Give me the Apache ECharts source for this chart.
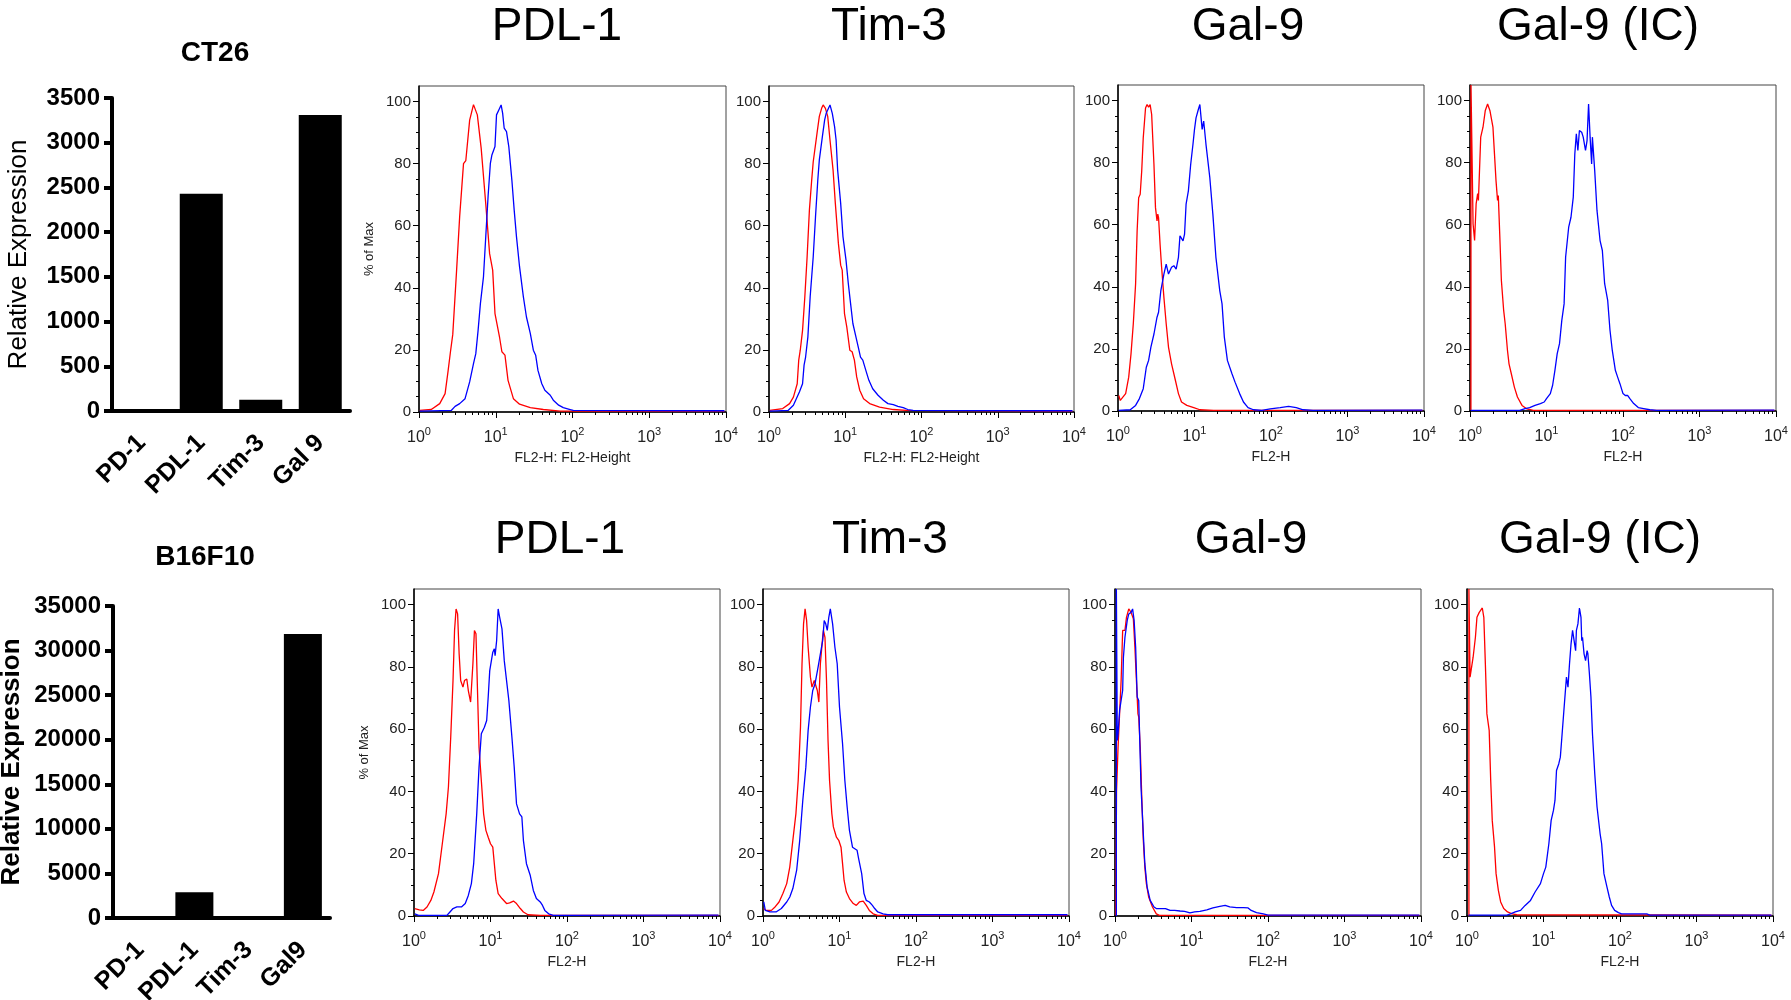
<!DOCTYPE html>
<html>
<head>
<meta charset="utf-8">
<script src="https://cdn.jsdelivr.net/npm/echarts@6/dist/echarts.min.js"></script>
<style>
html, body { margin: 0; padding: 0; background: #fff; }
#main { width: 1791px; height: 1000px; }
</style>
</head>
<body>
<div id="main"></div>
<script>
// bar charts (qPCR relative expression)
var ct26Genes = ['PD-1', 'PDL-1', 'Tim-3', 'Gal 9'];
var ct26Values = [10, 2430, 125, 3310];
var b16Genes = ['PD-1', 'PDL-1', 'Tim-3', 'Gal9'];
var b16Values = [60, 2900, 80, 31850];

// histogram panels, points are [log10 FL2-H, % of Max]
var histTitles = ['PDL-1', 'Tim-3', 'Gal-9', 'Gal-9 (IC)'];
var ct26XNames = ['FL2-H: FL2-Height', 'FL2-H: FL2-Height', 'FL2-H', 'FL2-H'];
var b16XNames = ['FL2-H', 'FL2-H', 'FL2-H', 'FL2-H'];
var decadeTicks = [0, 1, 2, 3, 4];
var yMinorTicks = [0, 5, 10, 15, 20, 25, 30, 35, 40, 45, 50, 55, 60, 65, 70, 75, 80, 85, 90, 95, 100];

var ct26Pdl1Red = [[0.01,0.5],[0.16,0.8],[0.27,2.7],[0.34,5.9],[0.38,13.4],[0.41,19.4],[0.44,25],[0.49,45.7],[0.53,63],[0.58,80],[0.61,81],[0.66,94],[0.71,99],[0.76,95.7],[0.81,85],[0.87,67],[0.92,51],[0.96,45.7],[0.99,31.7],[1.05,24],[1.08,19.4],[1.12,18.3],[1.16,10.2],[1.23,4.3],[1.31,2.5],[1.45,1.4],[1.62,0.8],[1.84,0.3],[3.98,0.3]];
var ct26Pdl1Blue = [[0.01,0.3],[0.42,0.5],[0.47,1.8],[0.53,2.7],[0.60,4.3],[0.66,9.7],[0.71,15.6],[0.74,18.8],[0.77,26.3],[0.80,34.9],[0.84,43.5],[0.87,56.5],[0.90,69.4],[0.93,80.1],[0.95,82.8],[0.97,83.3],[0.99,85.5],[1.01,95.7],[1.04,97.3],[1.07,98.9],[1.09,96.2],[1.11,91.4],[1.14,90.3],[1.17,85.5],[1.21,74.7],[1.24,65.1],[1.27,56.5],[1.31,46.8],[1.36,37.1],[1.40,30.6],[1.45,25.3],[1.49,19.9],[1.52,18.3],[1.55,13.4],[1.60,9.1],[1.64,7.0],[1.71,5.4],[1.75,3.8],[1.82,2.2],[1.88,1.4],[1.97,0.8],[2.01,0.5],[3.98,0.4]];
var ct26Tim3Red = [[0.01,0.5],[0.18,1.1],[0.27,2.7],[0.32,4.8],[0.37,9.1],[0.39,16.7],[0.41,19.9],[0.44,26.3],[0.47,37.1],[0.50,50],[0.53,65.1],[0.56,74.7],[0.58,80.6],[0.60,81.2],[0.63,89.8],[0.66,95.2],[0.69,97.8],[0.71,98.9],[0.74,97.8],[0.77,95.2],[0.80,87.6],[0.84,78],[0.87,67.2],[0.91,54.3],[0.94,47.3],[0.96,45.7],[0.99,31.7],[1.02,27.4],[1.06,19.9],[1.09,19.4],[1.12,16.7],[1.15,11.3],[1.19,7.0],[1.24,4.3],[1.32,2.7],[1.45,1.6],[1.63,0.8],[1.80,0.5],[3.98,0.3]];
var ct26Tim3Blue = [[0.01,0.3],[0.25,0.5],[0.32,2.2],[0.40,6.5],[0.44,9.1],[0.46,15.1],[0.48,17.7],[0.51,24.2],[0.54,37.1],[0.58,50],[0.61,62.9],[0.64,74.7],[0.66,81.2],[0.70,88.7],[0.73,94.1],[0.75,96.2],[0.77,97.3],[0.80,98.9],[0.83,96.2],[0.86,91.9],[0.88,87.6],[0.90,78],[0.94,67.2],[0.97,56.5],[1.01,48.9],[1.04,41.4],[1.07,34.9],[1.10,28.5],[1.14,24.2],[1.17,21.0],[1.20,17.7],[1.23,16.7],[1.27,13.4],[1.31,10.2],[1.36,7.5],[1.43,5.4],[1.50,3.8],[1.56,2.7],[1.63,2.4],[1.69,1.8],[1.76,1.4],[1.82,0.8],[1.89,0.5],[3.98,0.4]];
var ct26Gal9Red = [[0.01,5.0],[0.03,3.4],[0.05,3.6],[0.10,5.6],[0.14,10.9],[0.17,18.4],[0.20,28.1],[0.23,40.9],[0.25,58],[0.27,68.7],[0.29,69.8],[0.31,77.3],[0.33,88],[0.36,97.6],[0.38,98.7],[0.40,97.9],[0.42,98.7],[0.44,95.5],[0.47,79.4],[0.49,65.5],[0.51,61.2],[0.52,63.4],[0.53,62.3],[0.55,53.7],[0.57,46.3],[0.60,36.6],[0.63,28.1],[0.66,20.6],[0.70,15.2],[0.75,9.9],[0.79,5.6],[0.83,2.9],[0.90,1.8],[0.99,1.1],[1.07,0.4],[1.25,0.2],[3.98,0.2]];
var ct26Gal9Blue = [[0.01,0.2],[0.16,0.4],[0.23,1.8],[0.28,4.0],[0.33,7.2],[0.37,14.1],[0.40,16.3],[0.43,20.6],[0.47,24.8],[0.51,30.2],[0.53,31.8],[0.56,38.8],[0.60,44.1],[0.63,47.3],[0.66,44.1],[0.70,46.3],[0.73,46.8],[0.76,45.7],[0.79,49.5],[0.81,56.4],[0.85,54.8],[0.87,57],[0.89,66.6],[0.92,70.9],[0.95,79.4],[0.98,85.9],[1.00,90.7],[1.02,94.4],[1.05,97.1],[1.07,98.7],[1.10,90.7],[1.12,93.4],[1.15,85.9],[1.20,75.2],[1.24,63.4],[1.28,49.5],[1.33,38.8],[1.36,34.5],[1.39,23.8],[1.43,16.3],[1.49,12],[1.53,9.3],[1.59,5.6],[1.64,2.9],[1.70,1.1],[1.77,0.4],[1.88,0.2],[1.99,0.7],[2.12,1.1],[2.23,1.5],[2.33,1.1],[2.42,0.4],[2.55,0.2],[3.98,0.3]];
var ct26Gal9IcRed = [[0.012,0.3],[0.013,105],[0.034,105],[0.04,60.3],[0.06,54.9],[0.08,66.7],[0.10,70],[0.11,67.8],[0.14,88.2],[0.17,91.4],[0.20,96.8],[0.23,98.9],[0.26,96.8],[0.30,91.4],[0.32,82.8],[0.34,74.2],[0.36,67.8],[0.37,69.4],[0.39,56],[0.41,42.1],[0.44,32.4],[0.46,28.1],[0.49,19.5],[0.51,15.2],[0.54,12],[0.58,7.7],[0.62,4.5],[0.68,1.8],[0.74,0.7],[0.83,0.2],[3.98,0.2]];
var ct26Gal9IcBlue = [[0.01,0.2],[0.65,0.2],[0.72,0.8],[0.78,1.1],[0.85,1.8],[0.92,2.4],[0.97,2.9],[1.00,4.0],[1.05,5.6],[1.08,8.3],[1.11,13.1],[1.14,18.5],[1.17,21.7],[1.20,29.2],[1.23,34.5],[1.25,49.6],[1.29,59.2],[1.32,62.4],[1.33,62.4],[1.35,68.9],[1.37,82.8],[1.39,89.3],[1.41,83.9],[1.43,90.3],[1.46,89.8],[1.48,88.2],[1.51,83.9],[1.53,87.1],[1.55,98.9],[1.57,88.2],[1.59,79.6],[1.60,88.2],[1.63,77.5],[1.66,64.6],[1.70,54.9],[1.73,51.7],[1.76,41],[1.80,35.6],[1.83,26],[1.86,19.5],[1.90,13.1],[1.93,10.9],[1.96,8.8],[2.00,5.6],[2.03,5.0],[2.06,5.0],[2.09,4.0],[2.14,2.4],[2.20,1.1],[2.27,0.8],[2.35,0.4],[2.44,0.2],[3.98,0.3]];

var b16Pdl1Red = [[0.01,2.4],[0.03,2.6],[0.07,2.0],[0.12,1.8],[0.17,2.9],[0.22,5.0],[0.26,7.7],[0.32,13.6],[0.37,23.2],[0.42,32.8],[0.45,41.4],[0.48,57.4],[0.51,75.6],[0.53,91.7],[0.55,98.6],[0.57,97],[0.59,84.2],[0.61,75.6],[0.64,73.5],[0.66,75.6],[0.69,76.1],[0.71,72.4],[0.74,68.7],[0.77,81],[0.79,91.7],[0.81,90.6],[0.83,72.4],[0.85,54.2],[0.88,43.5],[0.91,32.8],[0.94,27.5],[0.97,25.3],[1.00,23.2],[1.03,22.1],[1.05,16.8],[1.07,11.5],[1.10,7.2],[1.15,5.6],[1.21,4.0],[1.25,4.2],[1.30,4.8],[1.34,4.0],[1.39,2.4],[1.43,1.3],[1.49,0.4],[1.65,0.2],[3.98,0.2]];
var b16Pdl1Blue = [[0.01,0.7],[0.02,1.0],[0.06,0.2],[0.43,0.2],[0.47,1.3],[0.51,2.4],[0.56,2.9],[0.62,2.9],[0.67,4.0],[0.71,6.6],[0.75,10.4],[0.78,16.8],[0.82,32.8],[0.85,47.8],[0.88,58.5],[0.92,60.6],[0.95,62.8],[0.97,70.3],[0.99,78.8],[1.03,84.7],[1.05,85.8],[1.06,83.6],[1.08,88.4],[1.10,98.6],[1.12,95.9],[1.15,92.2],[1.18,82],[1.21,75.6],[1.24,69.2],[1.28,57.4],[1.31,47.8],[1.34,36],[1.38,32.8],[1.41,31.8],[1.43,24.3],[1.47,16.8],[1.52,13],[1.56,8.2],[1.60,5.6],[1.65,4.5],[1.68,3.4],[1.71,1.8],[1.76,0.7],[1.82,0.2],[3.98,0.3]];
var b16Tim3Red = [[0.01,2.4],[0.04,1.8],[0.11,1.8],[0.15,2.7],[0.21,4.5],[0.26,7.2],[0.31,10.4],[0.35,15.7],[0.39,24.3],[0.43,32.8],[0.46,43.5],[0.49,60.6],[0.51,81],[0.53,93.8],[0.55,98.6],[0.57,94.9],[0.59,86.3],[0.62,76.7],[0.64,73.5],[0.67,75.6],[0.69,76.1],[0.71,72.4],[0.73,68.7],[0.75,81],[0.78,89.5],[0.79,91.7],[0.81,89.5],[0.83,75.6],[0.85,56.4],[0.87,43.5],[0.90,32.8],[0.92,28.6],[0.96,25.3],[0.99,24.3],[1.02,22.1],[1.04,16.8],[1.06,11.4],[1.09,7.7],[1.13,5.6],[1.18,4.0],[1.22,3.4],[1.26,4.5],[1.31,4.8],[1.35,3.4],[1.39,1.8],[1.44,0.7],[1.50,0.2],[3.98,0.2]];
var b16Tim3Blue = [[0.01,4.5],[0.03,1.8],[0.09,1.3],[0.17,1.3],[0.24,2.4],[0.31,4.5],[0.35,6.1],[0.39,8.8],[0.44,14.7],[0.48,24.3],[0.52,37.1],[0.56,47.8],[0.59,59.6],[0.62,67.1],[0.65,72.4],[0.68,74.5],[0.72,79.9],[0.75,84.2],[0.78,88.4],[0.80,94.9],[0.82,93.8],[0.84,91.7],[0.86,95.9],[0.88,98.6],[0.91,93.8],[0.94,86.3],[0.97,81],[1.00,67.1],[1.04,55.3],[1.07,43.5],[1.10,35],[1.13,27.5],[1.17,22.1],[1.20,21.6],[1.23,21.1],[1.25,18.4],[1.29,13.6],[1.32,7.2],[1.35,5.0],[1.39,4.5],[1.43,3.4],[1.46,2.4],[1.50,1.3],[1.57,0.7],[1.63,0.4],[3.98,0.4]];
var b16Gal9Red = [[0.01,0.2],[0.02,40],[0.04,54.2],[0.06,64.9],[0.08,75.6],[0.10,91.7],[0.13,91.7],[0.15,95.9],[0.18,98.6],[0.21,97.5],[0.24,95.4],[0.26,86.3],[0.28,75.6],[0.30,64.9],[0.31,63.9],[0.33,54.2],[0.35,38.2],[0.37,24.3],[0.39,15.7],[0.41,10.4],[0.44,6.1],[0.49,2.9],[0.54,0.7],[0.58,0.2],[3.98,0.2]];
var b16Gal9Blue = [[0.018,0],[0.018,105],[0.03,56.4],[0.04,58.5],[0.06,66],[0.08,65.5],[0.10,72.4],[0.11,83.1],[0.13,89.5],[0.16,94.9],[0.18,97],[0.21,97.5],[0.23,98.6],[0.25,94.9],[0.27,86.3],[0.29,70.3],[0.31,69.2],[0.32,59.6],[0.34,41.4],[0.37,26.4],[0.39,16.8],[0.42,9.3],[0.46,5.0],[0.51,2.9],[0.54,2.4],[0.61,2.4],[0.66,2.4],[0.72,1.8],[0.78,1.8],[0.85,1.6],[0.91,1.5],[0.98,1.0],[1.04,1.3],[1.11,1.5],[1.20,2.0],[1.28,2.6],[1.37,3.1],[1.44,3.4],[1.50,2.9],[1.59,2.7],[1.68,2.7],[1.74,2.6],[1.78,1.8],[1.85,1.1],[1.94,0.7],[2.00,0.3],[3.98,0.3]];
var b16Gal9IcRed = [[0.025,0],[0.025,105],[0.035,105],[0.04,76.7],[0.06,76.1],[0.08,83.1],[0.11,89.5],[0.13,95.9],[0.16,97.5],[0.18,97.5],[0.20,98.9],[0.22,95.9],[0.24,81],[0.26,64.9],[0.27,64.4],[0.29,59.6],[0.31,43.5],[0.33,30.7],[0.36,22.1],[0.38,13.6],[0.41,8.2],[0.44,4.5],[0.48,2.4],[0.53,1.3],[0.59,0.7],[0.65,0.4],[3.98,0.3]];
var b16Gal9IcBlue = [[0.02,0.3],[0.52,0.3],[0.57,0.7],[0.63,1.3],[0.70,1.8],[0.76,3.4],[0.83,5.0],[0.89,7.7],[0.96,10.4],[1.00,13.6],[1.03,15.7],[1.07,23.2],[1.10,30.7],[1.13,33.9],[1.15,37.1],[1.17,46.7],[1.20,48.9],[1.22,51],[1.24,57.4],[1.27,67.1],[1.30,76.7],[1.32,73.5],[1.34,81],[1.36,87.4],[1.38,91.7],[1.40,88.4],[1.42,85.2],[1.43,91.7],[1.45,93.8],[1.47,98.9],[1.49,95.9],[1.50,88.4],[1.51,89.5],[1.53,84.2],[1.55,82],[1.57,85.2],[1.58,84.2],[1.60,77.8],[1.62,70.3],[1.64,58.5],[1.67,45.7],[1.70,35],[1.74,26.4],[1.76,23.2],[1.79,13.6],[1.83,9.3],[1.86,6.1],[1.89,3.4],[1.93,1.8],[1.98,1.1],[2.02,0.7],[2.35,0.7],[2.39,0.3],[3.98,0.3]];

var histPanels = [
    {title: histTitles[0], xName: ct26XNames[0], yName: '% of Max', red: ct26Pdl1Red, blue: ct26Pdl1Blue},
    {title: histTitles[1], xName: ct26XNames[1], yName: '', red: ct26Tim3Red, blue: ct26Tim3Blue},
    {title: histTitles[2], xName: ct26XNames[2], yName: '', red: ct26Gal9Red, blue: ct26Gal9Blue},
    {title: histTitles[3], xName: ct26XNames[3], yName: '', red: ct26Gal9IcRed, blue: ct26Gal9IcBlue},
    {title: histTitles[0], xName: b16XNames[0], yName: '% of Max', red: b16Pdl1Red, blue: b16Pdl1Blue},
    {title: histTitles[1], xName: b16XNames[1], yName: '', red: b16Tim3Red, blue: b16Tim3Blue},
    {title: histTitles[2], xName: b16XNames[2], yName: '', red: b16Gal9Red, blue: b16Gal9Blue},
    {title: histTitles[3], xName: b16XNames[3], yName: '', red: b16Gal9IcRed, blue: b16Gal9IcBlue}
];

// layout: [left, top, width, height] of each histogram box, title centres
var histBoxes = [
    [419, 86, 307, 326], [769, 86, 305, 326], [1118, 85, 306, 326], [1470, 85, 306, 326],
    [414, 589, 306, 327], [763, 589, 306, 327], [1115, 589, 306, 327], [1467, 589, 306, 327]
];
var titleCentres = [[557, 27], [889, 27], [1248, 27], [1598, 27], [560, 540], [890, 540], [1251, 540], [1600, 540]];

var FONT = 'Liberation Sans';
var RED = '#ff0000', BLUE = '#0000ff';

var grids = [], xAxes = [], yAxes = [], series = [], graphics = [];

function barPanel(gIdx, box, genes, values, max, step, yName, nameBold, nameGap, barWidth) {
    grids.push({left: box[0], top: box[1], width: box[2], height: box[3], containLabel: false, outerBoundsMode: 'none'});
    xAxes.push({
        type: 'category', gridIndex: gIdx, data: genes,
        axisLine: {lineStyle: {color: '#000', width: 4}},
        axisTick: {alignWithLabel: true, length: 8, lineStyle: {color: '#000', width: 4}},
        axisLabel: {rotate: 45, interval: 0, margin: 28, color: '#000', fontSize: 25, fontWeight: 'bold', fontFamily: FONT}
    });
    yAxes.push({
        type: 'value', gridIndex: gIdx, min: 0, max: max, interval: step,
        axisLine: {show: true, lineStyle: {color: '#000', width: 4}},
        axisTick: {show: true, length: 8, lineStyle: {color: '#000', width: 4}},
        axisLabel: {
            margin: 12, color: '#000', fontSize: 24, fontWeight: 'bold', fontFamily: FONT,
            formatter: function (v) { return String(v); }
        },
        splitLine: {show: false},
        name: yName, nameLocation: 'middle', nameGap: nameGap,
        nameTextStyle: {fontSize: 26, color: '#000', fontWeight: nameBold ? 'bold' : 'normal', fontFamily: FONT}
    });
    series.push({
        type: 'bar', xAxisIndex: gIdx, yAxisIndex: gIdx, data: values,
        barWidth: barWidth, itemStyle: {color: '#000'}, silent: true
    });
}

barPanel(0, [112, 98, 238, 313], ct26Genes, ct26Values, 3500, 500, 'Relative Expression', false, 80, 43);
barPanel(1, [113, 606, 217, 312], b16Genes, b16Values, 35000, 5000, 'Relative Expression', true, 88, 38);

graphics.push({type: 'text', x: 215, y: 53, style: {text: 'CT26', fontSize: 28, fontWeight: 'bold', fontFamily: FONT, fill: '#000', align: 'center', verticalAlign: 'middle', textAlign: 'center', textVerticalAlign: 'middle'}});
graphics.push({type: 'text', x: 205, y: 557, style: {text: 'B16F10', fontSize: 28, fontWeight: 'bold', fontFamily: FONT, fill: '#000', align: 'center', verticalAlign: 'middle', textAlign: 'center', textVerticalAlign: 'middle'}});

histPanels.forEach(function (p, k) {
    var g = grids.length;
    var box = histBoxes[k];
    grids.push({left: box[0], top: box[1], width: box[2], height: box[3], show: true, borderColor: '#444', borderWidth: 1, containLabel: false, outerBoundsMode: 'none'});
    var xMain = xAxes.length;
    xAxes.push({
        type: 'value', gridIndex: g, position: 'bottom', min: 0, max: 4, interval: 1,
        axisLine: {onZero: false, lineStyle: {color: '#000', width: 1.5}},
        axisTick: {length: 6, lineStyle: {color: '#000'}},
        splitLine: {show: false},
        axisLabel: {
            margin: 14,
            formatter: function (v) { return '{b|10}{s|' + decadeTicks[Math.round(v)] + '}'; },
            rich: {
                b: {fontSize: 16, fontFamily: FONT, color: '#222', lineHeight: 20, verticalAlign: 'bottom'},
                s: {fontSize: 11, fontFamily: FONT, color: '#222', lineHeight: 11, verticalAlign: 'top'}
            }
        },
        name: p.xName, nameLocation: 'middle', nameGap: 39,
        nameTextStyle: {fontSize: 14, color: '#222', fontFamily: FONT}
    });
    // decade sub-ticks (2..9) from a log scale over the same range
    xAxes.push({
        type: 'log', logBase: 10, gridIndex: g, position: 'bottom', min: 1, max: 10000,
        axisLine: {show: false, onZero: false}, axisTick: {show: false}, axisLabel: {show: false},
        splitLine: {show: false},
        minorTick: {show: true, splitNumber: 9, length: 3, lineStyle: {color: '#000'}},
        minorSplitLine: {show: false}
    });
    var yMain = yAxes.length;
    yAxes.push({
        type: 'value', gridIndex: g, position: 'left', min: 0, max: 105, interval: 20,
        axisLine: {show: true, onZero: false, lineStyle: {color: '#000', width: 1.5}},
        axisTick: {show: true, length: 6, lineStyle: {color: '#000'}},
        axisLabel: {showMaxLabel: false, margin: 8, fontSize: 15, color: '#222', fontFamily: FONT},
        splitLine: {show: false},
        name: p.yName, nameLocation: 'middle', nameGap: 43,
        nameTextStyle: {fontSize: 13, color: '#222', fontFamily: FONT}
    });
    yAxes.push({
        type: 'value', gridIndex: g, position: 'left', min: 0, max: 105, interval: 5,
        axisLine: {show: false}, axisLabel: {show: false}, splitLine: {show: false},
        axisTick: {show: true, length: 3, customValues: yMinorTicks, lineStyle: {color: '#000'}}
    });
    [[p.red, RED], [p.blue, BLUE]].forEach(function (s) {
        series.push({
            type: 'line', xAxisIndex: xMain, yAxisIndex: yMain, data: s[0],
            showSymbol: false, symbol: 'none', silent: true, clip: true,
            lineStyle: {color: s[1], width: 1.3}
        });
    });
    var c = titleCentres[k];
    graphics.push({type: 'text', x: c[0], y: c[1], style: {text: p.title, fontSize: 46, fontFamily: FONT, fill: '#000', align: 'center', verticalAlign: 'middle', textAlign: 'center', textVerticalAlign: 'middle'}});
});

var chart = echarts.init(document.getElementById('main'));
var option = {
    backgroundColor: '#fff',
    animation: false,
    textStyle: {fontFamily: FONT},
    grid: grids,
    xAxis: xAxes,
    yAxis: yAxes,
    series: series,
    graphic: graphics
};
chart.setOption(option);
</script>
</body>
</html>
